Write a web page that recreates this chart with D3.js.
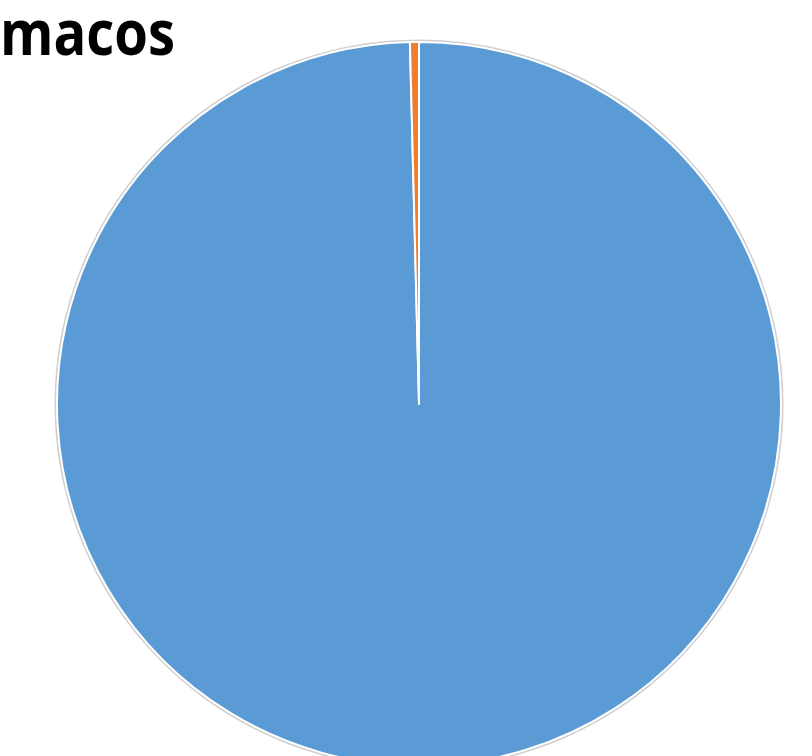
<!DOCTYPE html>
<html><head><meta charset="utf-8">
<script src="https://cdn.jsdelivr.net/npm/d3@7"></script>
<style>body{margin:0;background:#fff;overflow:hidden}svg{display:block}</style>
</head><body>
<svg id="c" width="812" height="756"></svg>
<script>
const categories = ["A", "B"];
const values = [99.6, 0.4];
const colors = ["#5B9BD5", "#ED7D31"];
const title = "macos";

const svg = d3.select("#c");
const cx = 419, cy = 404, r = 362;
const g = svg.append("g").attr("transform", `translate(${cx},${cy})`);
g.append("circle").attr("r", r + 1.5).attr("fill", "none").attr("stroke", "#d0d0d0").attr("stroke-width", 2);
const pie = d3.pie().sort(null).value(d => d.v);
const arc = d3.arc().innerRadius(0).outerRadius(r);
const data = categories.map((c, i) => ({c, v: values[i]}));
g.selectAll("path").data(pie(data)).join("path")
  .attr("d", arc)
  .attr("fill", (d, i) => colors[i])
  .attr("stroke", "#fff").attr("stroke-width", 2).attr("stroke-linejoin", "round");
svg.append("text").attr("x", 0).attr("y", 55).attr("text-anchor", "start")
  .attr("font-family", "Open Sans").attr("font-weight", "bold").attr("font-size", 62)
  .attr("textLength", 175).attr("lengthAdjust", "spacingAndGlyphs")
  .attr("fill", "#000").text(title);
</script>
</body></html>
